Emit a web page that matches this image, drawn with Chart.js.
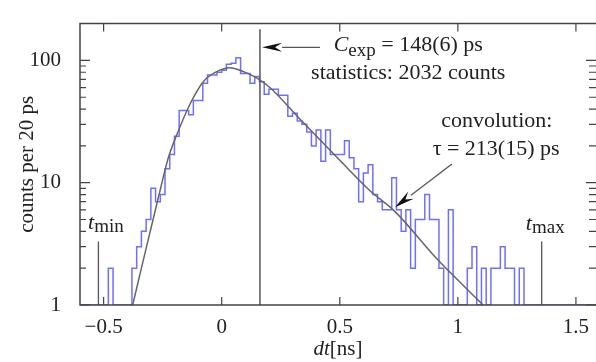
<!DOCTYPE html>
<html>
<head>
<meta charset="utf-8">
<script src="https://cdn.jsdelivr.net/npm/chart.js@4"></script>
<style>
  html, body { margin: 0; padding: 0; background: #fff; }
</style>
</head>
<body>
<canvas id="myChart" width="596" height="362"></canvas>
<script>
// histogram, 20 ps bins, first bin starts at -0.60 ns
const binStart = -0.60;
const binWidth = 0.02;
const counts = [
    1, 1, 1, 1, 1, 1, 2, 1, 1, 1,
    1, 2, 3, 4, 5, 9, 7, 8, 13, 17,
    24, 39, 39, 36, 47, 47, 65, 76, 76, 80,
    83, 93, 95, 105, 78, 78, 65, 74, 67, 53,
    58, 58, 52, 52, 35, 37, 32, 30, 26, 20,
    27, 15, 27, 17, 17, 17, 22, 16, 13, 7,
    12, 14, 8, 7, 6, 6, 11, 6, 4, 6,
    2, 5, 5, 8, 5, 5, 2, 1, 6, 1,
    1, 1, 2, 3, 1, 2, 1, 2, 2, 3,
    2, 2, 1, 2, 1, 1, 1, 1, 1, 1,
    1, 1, 1, 1, 1, 1, 1, 1, 1, 1
];

// convolution fit curve
const fitX = [-0.377, -0.34, -0.30, -0.26, -0.226, -0.191, -0.134, -0.078, -0.021, 0.035,
              0.092, 0.148, 0.204, 0.332, 0.501, 0.628, 0.734, 0.91, 1.0, 1.107];
const fitY = [1, 2.0, 4.2, 8.8, 16, 24.4, 44, 67, 81, 87,
              81, 72, 60, 33, 15.2, 8.6, 5.8, 2.4, 1.6, 1];

// marker lines
const tMin = -0.522;
const tMax = 1.355;
const cExp = 0.162;
const limitTop = 3.3;
const cExpTop = 180;

const xTicks = [-0.5, 0, 0.5, 1, 1.5];
const yTicks = [1, 10, 100];
const yMinorTicks = [2, 3, 4, 5, 6, 7, 8, 9, 20, 30, 40, 50, 60, 70, 80, 90];

const serif = '"Liberation Serif", "DejaVu Serif", serif';
const textColor = '#222';

const histPoints = counts.map((c, i) => ({ x: binStart + i * binWidth, y: c }));
histPoints.push({ x: binStart + counts.length * binWidth, y: counts[counts.length - 1] });
const fitPoints = fitX.map((x, i) => ({ x: x, y: fitY[i] }));

function drawParts(ctx, parts, x, y, align) {
    let total = 0;
    parts.forEach(p => {
        ctx.font = p.font;
        p.w = ctx.measureText(p.text).width;
        total += p.w;
    });
    let cx = align === 'center' ? x - total / 2 : x;
    parts.forEach(p => {
        ctx.font = p.font;
        ctx.fillText(p.text, cx, y + (p.dy || 0));
        cx += p.w;
    });
}

function drawArrow(ctx, x1, y1, x2, y2) {
    const ang = Math.atan2(y2 - y1, x2 - x1);
    const len = 20, half = 4.5;
    const bx = x2 - len * Math.cos(ang), by = y2 - len * Math.sin(ang);
    ctx.strokeStyle = '#555';
    ctx.lineWidth = 1.3;
    ctx.beginPath();
    ctx.moveTo(x1, y1);
    ctx.lineTo(bx, by);
    ctx.stroke();
    ctx.fillStyle = '#111';
    ctx.beginPath();
    ctx.moveTo(x2, y2);
    ctx.lineTo(bx + half * Math.sin(ang), by - half * Math.cos(ang));
    ctx.lineTo(bx + 0.35 * len * Math.cos(ang), by + 0.35 * len * Math.sin(ang));
    ctx.lineTo(bx - half * Math.sin(ang), by + half * Math.cos(ang));
    ctx.closePath();
    ctx.fill();
}

const framePlugin = {
    id: 'frame',
    afterDraw(chart) {
        const ctx = chart.ctx;
        const a = chart.chartArea;
        const xs = chart.scales.x, ys = chart.scales.y;
        ctx.save();

        // frame
        ctx.strokeStyle = '#444';
        ctx.lineWidth = 1.5;
        ctx.beginPath();
        ctx.moveTo(a.right + 2, a.top);
        ctx.lineTo(a.left, a.top);
        ctx.lineTo(a.left, a.bottom);
        ctx.lineTo(a.right + 2, a.bottom);
        ctx.stroke();

        // inward ticks
        ctx.lineWidth = 1.2;
        ctx.beginPath();
        xTicks.forEach(v => {
            const px = xs.getPixelForValue(v);
            ctx.moveTo(px, a.bottom); ctx.lineTo(px, a.bottom - 8);
            ctx.moveTo(px, a.top); ctx.lineTo(px, a.top + 8);
        });
        yTicks.forEach(v => {
            const py = ys.getPixelForValue(v);
            ctx.moveTo(a.left, py); ctx.lineTo(a.left + 10, py);
            ctx.moveTo(a.right, py); ctx.lineTo(a.right - 10, py);
        });
        yMinorTicks.forEach(v => {
            const py = ys.getPixelForValue(v);
            ctx.moveTo(a.left, py); ctx.lineTo(a.left + 6, py);
            ctx.moveTo(a.right, py); ctx.lineTo(a.right - 7, py);
        });
        ctx.stroke();

        // arrows
        drawArrow(ctx, xs.getPixelForValue(0.416), ys.getPixelForValue(128),
                  xs.getPixelForValue(0.171), ys.getPixelForValue(128));
        drawArrow(ctx, xs.getPixelForValue(0.975), ys.getPixelForValue(14.2),
                  xs.getPixelForValue(0.734), ys.getPixelForValue(6.3));

        // annotations
        ctx.fillStyle = textColor;
        ctx.textAlign = 'left';
        ctx.textBaseline = 'alphabetic';
        const big = '22px ' + serif, it = 'italic 22px ' + serif, sub = '19px ' + serif;
        drawParts(ctx, [
            { text: 'C', font: it },
            { text: 'exp', font: sub, dy: 5 },
            { text: ' = 148(6) ps', font: big }
        ], xs.getPixelForValue(0.79), ys.getPixelForValue(120), 'center');
        drawParts(ctx, [{ text: 'statistics: 2032 counts', font: big }],
                  xs.getPixelForValue(0.79), ys.getPixelForValue(70), 'center');
        drawParts(ctx, [{ text: 'convolution:', font: big }],
                  xs.getPixelForValue(1.165), ys.getPixelForValue(28.5), 'center');
        drawParts(ctx, [{ text: 'τ = 213(15) ps', font: big }],
                  xs.getPixelForValue(1.162), ys.getPixelForValue(17), 'center');
        drawParts(ctx, [
            { text: 't', font: it },
            { text: 'min', font: sub, dy: 3 }
        ], xs.getPixelForValue(-0.566), ys.getPixelForValue(4.2), 'left');
        drawParts(ctx, [
            { text: 't', font: it },
            { text: 'max', font: sub, dy: 3 }
        ], xs.getPixelForValue(1.288), ys.getPixelForValue(4.1), 'left');

        // axis titles
        const tf = '21px ' + serif;
        drawParts(ctx, [
            { text: 'dt', font: 'italic 21px ' + serif },
            { text: '[ns]', font: tf }
        ], (a.left + a.right) / 2, 355, 'center');
        ctx.save();
        ctx.translate(33, (a.top + a.bottom) / 2);
        ctx.rotate(-Math.PI / 2);
        drawParts(ctx, [{ text: 'counts per 20 ps', font: tf }], 0, 0, 'center');
        ctx.restore();

        ctx.restore();
    }
};

const ctx = document.getElementById('myChart').getContext('2d');
const myChart = new Chart(ctx, {
    type: 'line',
    data: {
        datasets: [
            {
                label: 'fit',
                data: fitPoints,
                borderColor: '#666',
                borderWidth: 1.5,
                pointRadius: 0,
                cubicInterpolationMode: 'monotone',
                order: 0
            },
            {
                label: 'cexp',
                data: [{ x: cExp, y: 1 }, { x: cExp, y: cExpTop }],
                borderColor: '#555',
                borderWidth: 1.5,
                pointRadius: 0,
                order: 1
            },
            {
                label: 'tmin',
                data: [{ x: tMin, y: 1 }, { x: tMin, y: limitTop }],
                borderColor: '#555',
                borderWidth: 1.3,
                pointRadius: 0,
                order: 1
            },
            {
                label: 'tmax',
                data: [{ x: tMax, y: 1 }, { x: tMax, y: limitTop }],
                borderColor: '#555',
                borderWidth: 1.3,
                pointRadius: 0,
                order: 1
            },
            {
                label: 'counts',
                data: histPoints,
                borderColor: '#6f6fff',
                borderWidth: 1.5,
                pointRadius: 0,
                stepped: 'before',
                order: 2
            }
        ]
    },
    options: {
        responsive: false,
        animation: false,
        events: [],
        layout: { padding: { top: 9, right: 0, left: 0, bottom: 0 } },
        plugins: { legend: { display: false }, tooltip: { enabled: false } },
        scales: {
            x: {
                type: 'linear',
                min: -0.6,
                max: 1.585,
                grid: { display: false },
                border: { display: false },
                afterBuildTicks: scale => { scale.ticks = xTicks.map(v => ({ value: v })); },
                afterFit: scale => { scale.height = 57; },
                ticks: {
                    color: textColor,
                    padding: 2,
                    maxRotation: 0,
                    autoSkip: false,
                    font: { family: serif, size: 21 },
                    callback: v => v < 0 ? '\u2212' + Math.abs(v) : String(v)
                }
            },
            y: {
                type: 'logarithmic',
                min: 1,
                max: 200,
                grid: { display: false },
                border: { display: false },
                afterBuildTicks: scale => { scale.ticks = yTicks.map(v => ({ value: v })); },
                afterFit: scale => { scale.width = 80; },
                ticks: {
                    color: textColor,
                    padding: 11,
                    autoSkip: false,
                    font: { family: serif, size: 21 },
                    callback: v => String(v)
                }
            }
        }
    },
    plugins: [framePlugin]
});
</script>
</body>
</html>
